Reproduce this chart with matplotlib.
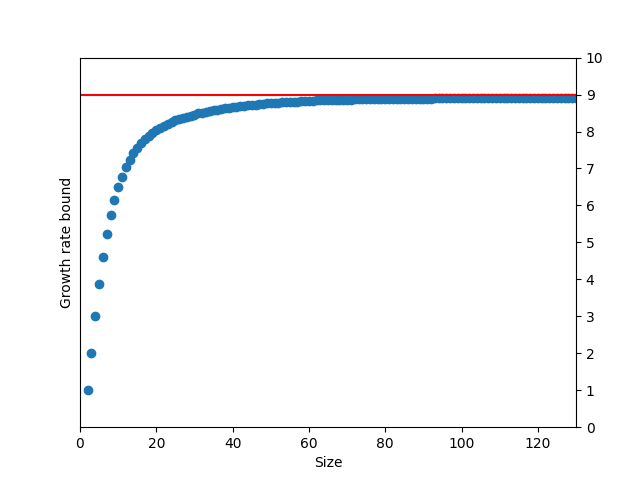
import matplotlib
matplotlib.use('Agg')
import matplotlib.pyplot as plt

# size of the system, 2..130
sizes = list(range(2, 131))

# growth rate bound, one value per size
bounds = [
    1.00, 2.00, 3.00, 3.88, 4.60, 5.22, 5.74, 6.15, 6.50,   # 2-10
    6.78, 7.03, 7.23, 7.41, 7.56, 7.69, 7.80, 7.89, 7.97, 8.04,   # 11-20
    8.10, 8.16, 8.21, 8.26, 8.30, 8.34, 8.37, 8.40, 8.43, 8.46,   # 21-30
    8.49, 8.51, 8.53, 8.55, 8.57, 8.59, 8.61, 8.63, 8.64, 8.66,   # 31-40
    8.67, 8.69, 8.70, 8.71, 8.72, 8.73, 8.74, 8.75, 8.76, 8.77,   # 41-50
    8.77, 8.78, 8.79, 8.79, 8.80, 8.81, 8.81, 8.82, 8.82, 8.83,   # 51-60
    8.83, 8.84, 8.84, 8.84, 8.85, 8.85, 8.85, 8.86, 8.86, 8.86,   # 61-70
    8.86, 8.87, 8.87, 8.87, 8.87, 8.87, 8.88, 8.88, 8.88, 8.88,   # 71-80
    8.88, 8.88, 8.89, 8.89, 8.89, 8.89, 8.89, 8.89, 8.89, 8.89,   # 81-90
    8.89, 8.89, 8.90, 8.90, 8.90, 8.90, 8.90, 8.90, 8.90, 8.90,   # 91-100
    8.90, 8.90, 8.90, 8.90, 8.90, 8.90, 8.90, 8.90, 8.90, 8.90,   # 101-110
    8.90, 8.90, 8.90, 8.90, 8.90, 8.90, 8.90, 8.90, 8.90, 8.90,   # 111-120
    8.90, 8.90, 8.90, 8.90, 8.90, 8.90, 8.90, 8.90, 8.90, 8.90,   # 121-130
]

limit = 9

fig, ax = plt.subplots(figsize=(6.4, 4.8), dpi=100)
ax.scatter(sizes, bounds)
ax.axhline(limit, color='red')
ax.set_xlim(0, 130)
ax.set_ylim(0, 10)
ax.set_yticks(range(0, 11))
ax.yaxis.tick_right()
ax.set_xlabel('Size')
ax.set_ylabel('Growth rate bound')
fig.savefig('out.png')
